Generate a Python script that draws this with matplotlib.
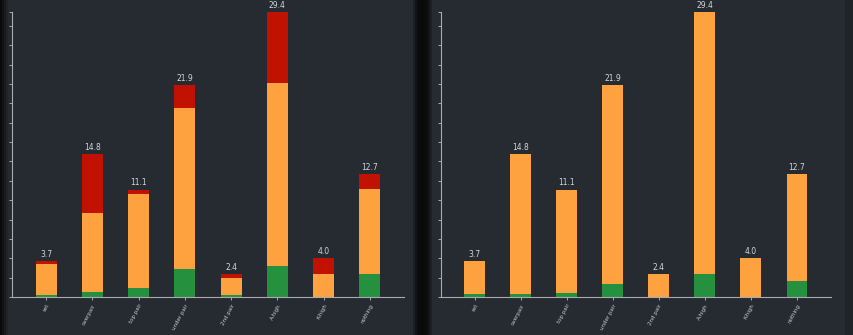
import numpy as np
import matplotlib
matplotlib.use("Agg")
from matplotlib import pyplot as plt
from matplotlib.patches import Rectangle

# hand categories and the three stacked segments (green / orange / red)
categories = ["set", "overpair", "top pair", "under pair", "2nd pair", "A-high", "K-high", "nothing"]
totals = [3.7, 14.8, 11.1, 21.9, 2.4, 29.4, 4.0, 12.7]

left_green = [0.2, 0.5, 0.9, 2.9, 0.2, 3.2, 0.05, 2.4]
left_orange = [3.25, 8.2, 9.75, 16.65, 1.8, 18.9, 2.35, 8.8]
left_red = [0.25, 6.1, 0.45, 2.35, 0.4, 7.3, 1.6, 1.5]

right_green = [0.27, 0.3, 0.4, 1.34, 0.05, 2.34, 0.05, 1.7]
right_orange = [3.41, 14.45, 10.6, 20.56, 2.35, 27.06, 3.95, 11.0]
right_red = [0.02, 0.05, 0.1, 0.0, 0.0, 0.0, 0.0, 0.0]

BG = "#262a31"
AXIS = "#a9abae"
GREEN = "#25913f"
ORANGE = "#fea13f"
RED = "#c11100"

W, H = 854, 335


def px_rect(x0, x1, color, fig):
    fig.patches.append(Rectangle((x0 / W, 0), (x1 - x0) / W, 1, transform=fig.transFigure,
                                 facecolor=color, edgecolor="none", zorder=-10))


def drawPanel(fig, left_px, right_px, green, orange, red):
    ax = fig.add_axes([left_px / W, 38 / H, (right_px - left_px) / W, (297 - 12.3) / H])
    ax.set_facecolor("none")
    x = np.arange(len(categories))
    g = np.array(green)
    o = np.array(orange)
    r = np.array(red)
    wd = 0.455
    ax.bar(x, g, width=wd, color=GREEN, linewidth=0)
    ax.bar(x, o, width=wd, bottom=g, color=ORANGE, linewidth=0)
    ax.bar(x, r, width=wd, bottom=g + o, color=RED, linewidth=0)

    for i, t in enumerate(totals):
        ax.annotate("%.1f" % t, (x[i], t), xytext=(0, 1.5), textcoords="offset points",
                    ha="center", va="bottom", fontsize=5.5, color="#d4d6d8")

    ax.set_xlim(-0.738, 7.738)
    ax.set_ylim(0, 29.4)
    ax.set_yticks(list(np.arange(0, 29, 2)) + [29.4])
    ax.set_yticklabels([])
    ax.set_xticks(x)
    ax.set_xticklabels(categories, rotation=62, ha="right", va="top", rotation_mode="anchor",
                       fontsize=4, color="#c8cacc")
    ax.tick_params(axis="both", colors=AXIS, length=2.4, width=0.7)
    ax.tick_params(axis="x", pad=2, labelcolor="#c8cacc")
    for s in ["top", "right"]:
        ax.spines[s].set_visible(False)
    for s in ["left", "bottom"]:
        ax.spines[s].set_color(AXIS)
        ax.spines[s].set_linewidth(0.8)
    return ax


def main():
    fig = plt.figure(figsize=(W / 100, H / 100), dpi=100)
    fig.patch.set_facecolor("#0a0a0b")

    # panel backgrounds, with soft dark edges
    px_rect(0, 419, BG, fig)
    px_rect(432, 845, BG, fig)
    px_rect(845, 854, "#1e2427", fig)
    for i, c in enumerate(["#08090a", "#101214", "#181a1e", "#1f2227"]):
        px_rect(i * 2, i * 2 + 2, c, fig)
    for i, c in enumerate(["#1c1f24", "#121417", "#0b0c0d"]):
        px_rect(413 + i * 2, 415 + i * 2, c, fig)
    for i, c in enumerate(["#0b0c0d", "#121417", "#1c1f24"]):
        px_rect(426 + i * 2, 428 + i * 2, c, fig)

    drawPanel(fig, 12, 404, left_green, left_orange, left_red)
    drawPanel(fig, 440.7, 831, right_green, right_orange, right_red)

    fig.savefig("out.png", dpi=100, facecolor=fig.get_facecolor())


if __name__ == "__main__":
    main()
